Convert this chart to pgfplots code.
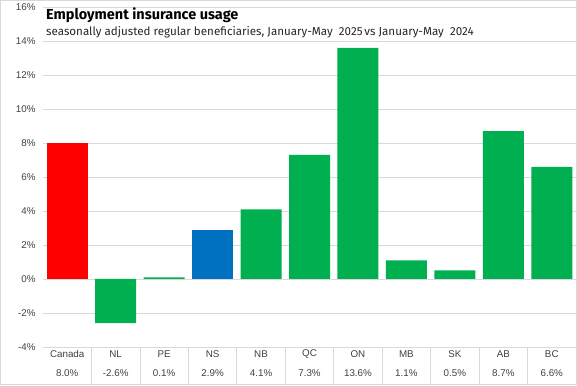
\documentclass[border=0pt]{standalone}
\usepackage{pgfplots}
\pgfplotsset{compat=1.18}
\usepackage{fontspec}
\setmainfont{Liberation Sans}
\newfontfamily\titlefont{Fira Sans}
\definecolor{gridgray}{RGB}{217,217,217}
\definecolor{barred}{RGB}{255,0,0}
\definecolor{barblue}{RGB}{0,112,192}
\definecolor{bargreen}{RGB}{0,176,80}
\definecolor{txt}{RGB}{64,64,64}
\begin{document}
\begin{tikzpicture}[x=1pt,y=1pt]
\useasboundingbox (0,0) rectangle (577,385);
\draw[gridgray,line width=1pt] (0.5,0.5) rectangle (576.5,384.5);
\begin{axis}[
  at={(43pt,38pt)}, anchor=south west,
  scale only axis, width=533pt, height=340pt,
  xmin=-0.5, xmax=10.5, ymin=-4, ymax=16,
  ytick={-4,-2,0,2,4,6,8,10,12,14,16},
  yticklabels={-4\%,-2\%,0\%,2\%,4\%,6\%,8\%,10\%,12\%,14\%,16\%},
  xtick=\empty,
  ymajorgrids, grid style={gridgray, line width=0.8pt},
  axis line style={draw=none}, tick style={draw=none},
  yticklabel style={font=\fontsize{9.8}{11}\selectfont, text=txt, xshift=-4pt},
  /pgf/number format/assume math mode=true,
  ybar, bar width=0.846, bar shift=0pt,
  clip=false,
]
\addplot[fill=barred, draw=none] coordinates {(0,8.0)};
\addplot[fill=barblue, draw=none] coordinates {(3,2.9)};
\addplot[fill=bargreen, draw=none] coordinates {(1,-2.6) (2,0.1) (4,4.1) (5,7.3) (6,13.6) (7,1.1) (8,0.5) (9,8.7) (10,6.6)};
\end{axis}
\foreach \xx in {1,...,10} {
  \draw[gridgray, line width=0.8pt] ({43+48.4545*\xx},38) -- ({43+48.4545*\xx},0);
}
\foreach \i/\n/\v in {0/Canada/8.0,1/NL/-2.6,2/PE/0.1,3/NS/2.9,4/NB/4.1,5/QC/7.3,6/ON/13.6,7/MB/1.1,8/SK/0.5,9/AB/8.7,10/BC/6.6} {
  \node[font=\fontsize{9.8}{11}\selectfont, text=txt, anchor=center] at ({43+48.4545*(\i+0.5)},31) {\n};
  \node[font=\fontsize{9.8}{11}\selectfont, text=txt, anchor=center] at ({43+48.4545*(\i+0.5)},12) {\v\%};
}
\node[anchor=base west, font=\titlefont\bfseries\fontsize{14.5}{16}\selectfont, inner sep=0pt] at (46,365) {Employment insurance usage};
\node[anchor=base west, font=\titlefont\fontsize{11.6}{13}\selectfont, text=black!85, inner sep=0pt] at (46,349.5) {seasonally adjusted regular beneficiaries, January-May\ \ 2025\,vs January-May\ \ 2024};
\end{tikzpicture}
\end{document}
